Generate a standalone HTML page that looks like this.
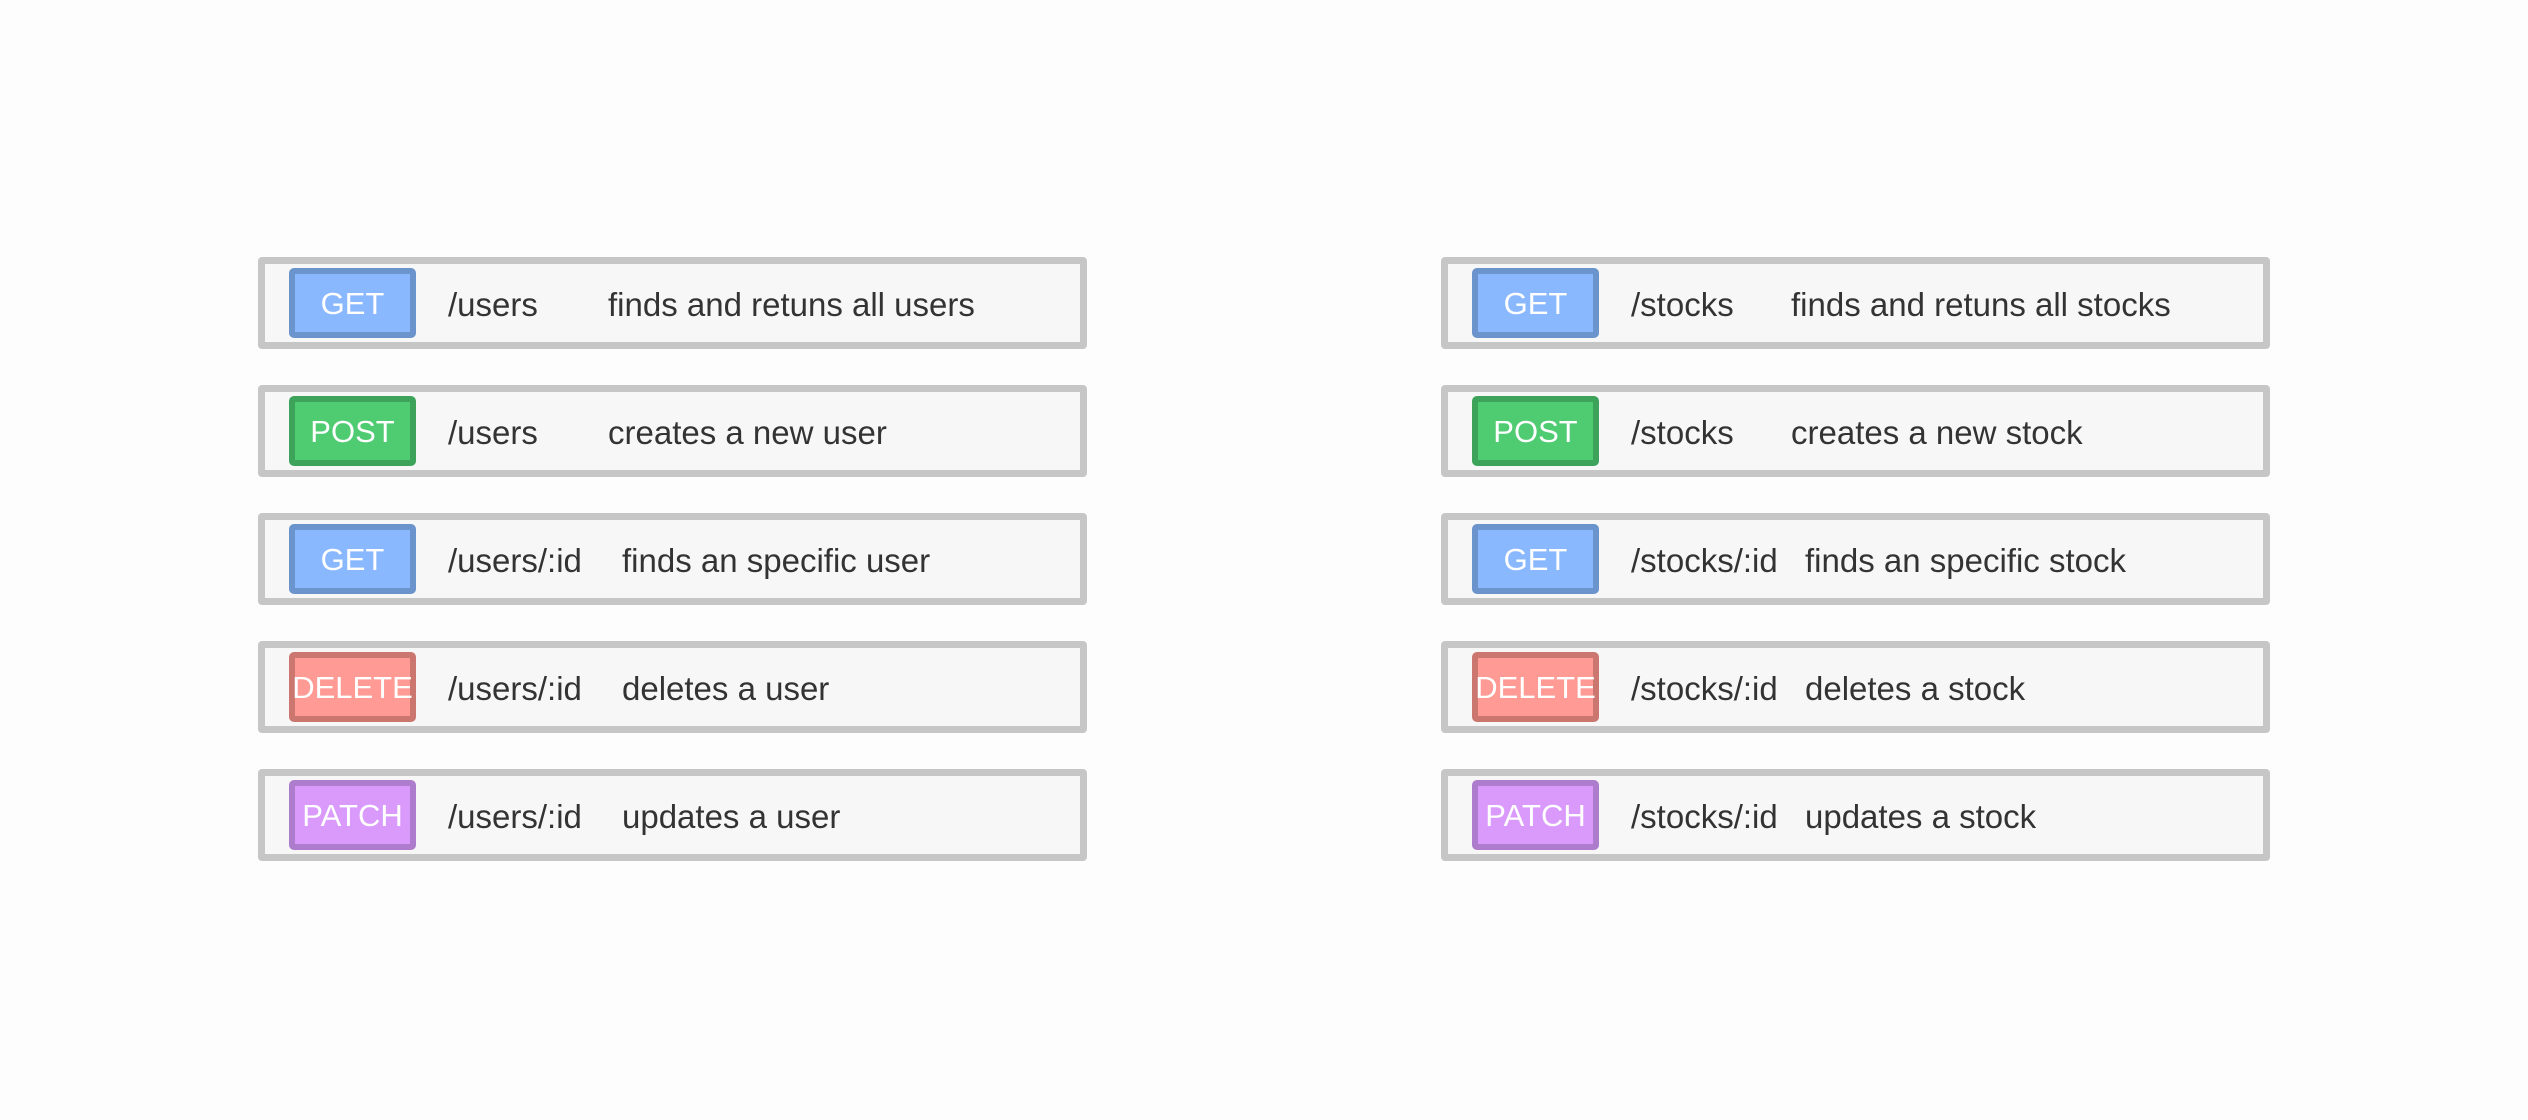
<!DOCTYPE html>
<html><head><style>
body{margin:0;width:2528px;height:1120px;background:#fdfdfd;position:relative;overflow:hidden;font-family:"Liberation Sans",sans-serif;}
.row{position:absolute;width:829px;height:92px;box-sizing:border-box;border:7px solid #c6c6c6;border-radius:4px;background:#f7f7f7;}
.b{position:absolute;left:24px;top:4px;width:127px;height:70px;box-sizing:border-box;border:6px solid;border-radius:5px;color:#fff;font-size:31px;display:flex;align-items:center;justify-content:center;white-space:nowrap;overflow:visible;padding-top:2px;}
.t{position:absolute;top:3px;line-height:76px;font-size:33px;color:#333;white-space:nowrap;}
.get{background:#8ab8ff;border-color:#6b93cc}
.post{background:#4fcb72;border-color:#3da35a}
.del{background:#ff9a94;border-color:#cc7670}
.pat{background:#d99afc;border-color:#ad7ccc}
</style></head><body>
<div class="row" style="left:258px;top:257px"><div class="b get">GET</div><div class="t" style="left:183px">/users</div><div class="t" style="left:343px">finds and retuns all users</div></div>
<div class="row" style="left:258px;top:385px"><div class="b post">POST</div><div class="t" style="left:183px">/users</div><div class="t" style="left:343px">creates a new user</div></div>
<div class="row" style="left:258px;top:513px"><div class="b get">GET</div><div class="t" style="left:183px">/users/:id</div><div class="t" style="left:357px">finds an specific user</div></div>
<div class="row" style="left:258px;top:641px"><div class="b del">DELETE</div><div class="t" style="left:183px">/users/:id</div><div class="t" style="left:357px">deletes a user</div></div>
<div class="row" style="left:258px;top:769px"><div class="b pat">PATCH</div><div class="t" style="left:183px">/users/:id</div><div class="t" style="left:357px">updates a user</div></div>

<div class="row" style="left:1441px;top:257px"><div class="b get">GET</div><div class="t" style="left:183px">/stocks</div><div class="t" style="left:343px">finds and retuns all stocks</div></div>
<div class="row" style="left:1441px;top:385px"><div class="b post">POST</div><div class="t" style="left:183px">/stocks</div><div class="t" style="left:343px">creates a new stock</div></div>
<div class="row" style="left:1441px;top:513px"><div class="b get">GET</div><div class="t" style="left:183px">/stocks/:id</div><div class="t" style="left:357px">finds an specific stock</div></div>
<div class="row" style="left:1441px;top:641px"><div class="b del">DELETE</div><div class="t" style="left:183px">/stocks/:id</div><div class="t" style="left:357px">deletes a stock</div></div>
<div class="row" style="left:1441px;top:769px"><div class="b pat">PATCH</div><div class="t" style="left:183px">/stocks/:id</div><div class="t" style="left:357px">updates a stock</div></div>
</body></html>
